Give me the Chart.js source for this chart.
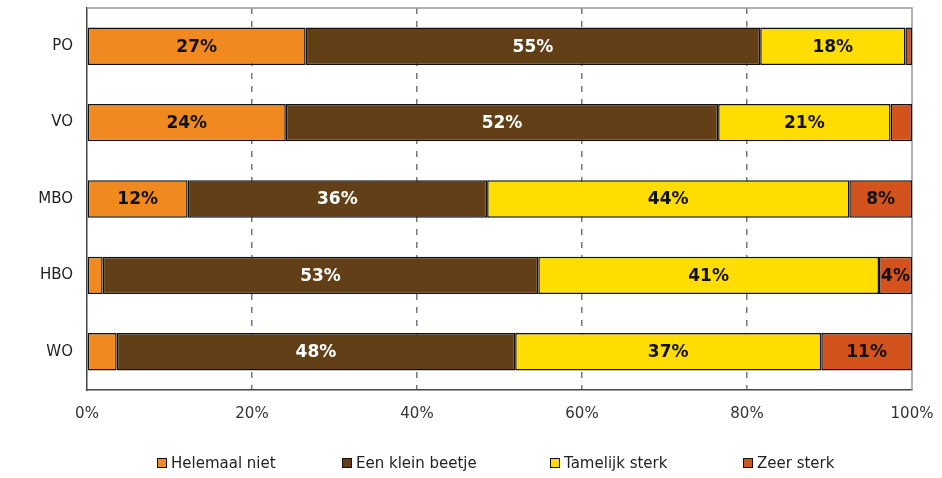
<!DOCTYPE html>
<html>
<head>
<meta charset="utf-8">
<script src="https://cdn.jsdelivr.net/npm/chart.js@4"></script>
<style>
  body { margin: 0; background: #fff; }
  #wrap { position: relative; width: 942px; height: 478px; }
  #legend { position: absolute; top: 454px; left: 0; width: 942px; height: 20px;
            font-family: "DejaVu Sans", Verdana, sans-serif; font-size: 15px; color: #222; }
  .item { position: absolute; top: 0; display: flex; align-items: center; white-space: nowrap; }
  .box { width: 8px; height: 8px; border: 1.5px solid #111; margin-right: 4px; }
</style>
</head>
<body>
<div id="wrap">
  <canvas id="myChart" width="942" height="478"></canvas>
  <div id="legend"></div>
</div>
<script>
const categories = ['PO', 'VO', 'MBO', 'HBO', 'WO'];
const seriesNames = ['Helemaal niet', 'Een klein beetje', 'Tamelijk sterk', 'Zeer sterk'];
const helemaalNiet = [26.5, 24.1, 12.2, 1.9, 3.6];
const eenKleinBeetje = [55.1, 52.4, 36.3, 52.8, 48.3];
const tamelijkSterk = [17.6, 20.9, 43.9, 41.3, 37.1];
const zeerSterk = [0.8, 2.6, 7.6, 4.0, 11.0];
const xTicks = [0, 20, 40, 60, 80, 100];

const colors = ['#F0891F', '#633F17', '#FFDD00', '#D4521B'];
const labelColors = ['#111', '#fff', '#111', '#111'];
const legendLeft = [157, 342, 550, 743];

const ctx = document.getElementById('myChart');

// percentage labels in the middle of each segment
const segmentLabels = {
    id: 'segmentLabels',
    afterDatasetsDraw(chart) {
        const c = chart.ctx;
        c.save();
        c.font = 'bold 17px "DejaVu Sans", Verdana, sans-serif';
        c.textAlign = 'center';
        c.textBaseline = 'middle';
        chart.data.datasets.forEach((ds, i) => {
            chart.getDatasetMeta(i).data.forEach((bar, j) => {
                const v = ds.data[j];
                if (v < 4) return;
                const p = bar.getProps(['x', 'y', 'base'], true);
                c.fillStyle = labelColors[i];
                c.fillText(Math.round(v) + '%', (p.x + p.base) / 2, p.y + 1);
            });
        });
        c.restore();
    }
};

// thin grey frame on top and right of the plot
const frame = {
    id: 'frame',
    beforeDatasetsDraw(chart) {
        const a = chart.chartArea;
        const c = chart.ctx;
        c.save();
        c.strokeStyle = '#999';
        c.lineWidth = 1.5;
        c.beginPath();
        c.moveTo(a.left, a.top);
        c.lineTo(a.right, a.top);
        c.lineTo(a.right, a.bottom);
        c.stroke();
        c.restore();
    }
};

const allData = [helemaalNiet, eenKleinBeetje, tamelijkSterk, zeerSterk];
const tickFont = { family: '"DejaVu Sans", Verdana, sans-serif', size: 15 };

new Chart(ctx, {
    type: 'bar',
    data: {
        labels: categories,
        datasets: allData.map((d, i) => ({
            label: seriesNames[i],
            data: d,
            backgroundColor: colors[i],
            borderColor: '#111',
            borderWidth: 1.5,
            borderSkipped: false,
            barPercentage: 0.49,
            categoryPercentage: 1
        }))
    },
    options: {
        indexAxis: 'y',
        responsive: false,
        animation: false,
        layout: { padding: { top: 8, right: 30, left: 0, bottom: 48 } },
        plugins: {
            legend: { display: false },
            tooltip: { enabled: false }
        },
        scales: {
            x: {
                stacked: true,
                min: 0,
                max: 100,
                afterBuildTicks: s => { s.ticks = xTicks.map(v => ({ value: v })); },
                afterFit: s => { s.height = 40; s.paddingLeft = 0; s.paddingRight = 0; },
                ticks: {
                    callback: v => v + '%',
                    color: '#333',
                    padding: 15,
                    maxRotation: 0,
                    font: tickFont
                },
                grid: {
                    drawTicks: false,
                    color: c => (c.tick.value === 0 || c.tick.value === 100) ? 'rgba(0,0,0,0)' : '#777',
                    lineWidth: 1.5
                },
                border: { display: true, color: '#444', width: 1.5, dash: [6, 7] }
            },
            y: {
                stacked: true,
                afterFit: s => { s.width = 87; s.paddingTop = 0; s.paddingBottom = 0; },
                ticks: {
                    color: '#222',
                    padding: 14,
                    font: tickFont
                },
                grid: { display: false, drawTicks: false },
                border: { display: true, color: '#444', width: 1.5 }
            }
        }
    },
    plugins: [frame, segmentLabels]
});

const legend = document.getElementById('legend');
seriesNames.forEach((name, i) => {
    const item = document.createElement('div');
    item.className = 'item';
    item.style.left = legendLeft[i] + 'px';
    const box = document.createElement('span');
    box.className = 'box';
    box.style.background = colors[i];
    const txt = document.createElement('span');
    txt.textContent = name;
    item.appendChild(box);
    item.appendChild(txt);
    legend.appendChild(item);
});
</script>
</body>
</html>
